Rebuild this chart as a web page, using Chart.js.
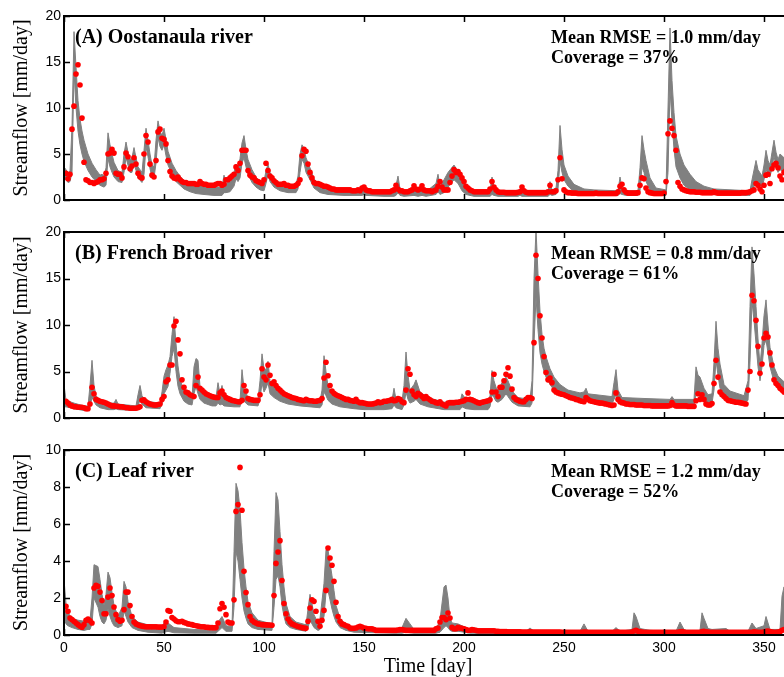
<!DOCTYPE html>
<html>
<head>
<meta charset="utf-8">
<script src="https://cdn.jsdelivr.net/npm/chart.js@4/dist/chart.umd.min.js"></script>
<style>
  html, body { margin: 0; padding: 0; background: #fff; overflow: hidden; width: 784px; height: 677px; }
  canvas { position: absolute; left: 0; }
</style>
</head>
<body>
<canvas id="panelA" width="800" height="216" style="top:0px;width:800px;height:216px"></canvas>
<canvas id="panelB" width="800" height="216" style="top:216px;width:800px;height:216px"></canvas>
<canvas id="panelC" width="800" height="245" style="top:432px;width:800px;height:245px"></canvas>
<script>
// ---- axis ticks ----
const dayTicks = [0, 50, 100, 150, 200, 250, 300, 350];
const flowTicksAB = [0, 5, 10, 15, 20];
const flowTicksC = [0, 2, 4, 6, 8, 10];

// ---- panel labels ----
const titles = ['(A) Oostanaula river', '(B) French Broad river', '(C) Leaf river'];
const rmseText = ['Mean RMSE = 1.0 mm/day', 'Mean RMSE = 0.8 mm/day', 'Mean RMSE = 1.2 mm/day'];
const coverageText = ['Coverage = 37%', 'Coverage = 61%', 'Coverage = 52%'];

// ---- observed daily streamflow (mm/day), days 1..365 ----
const obsA = [
  2.9, 2.3, 2.8, 7.7, 10.2, 13.7, 14.7, 12.5, 8.9, 4.1,
  2.2, 2.1, 1.9, 1.9, 1.8, 1.9, 2.0, 2.2, 2.2, 2.3,
  2.9, 5.0, 5.1, 5.5, 5.1, 2.9, 2.8, 2.8, 2.4, 3.6,
  5.1, 4.7, 3.4, 3.7, 4.6, 3.9, 2.9, 2.5, 2.4, 5.0,
  7.0, 6.3, 3.9, 2.7, 2.5, 4.3, 7.4, 7.7, 6.7, 6.6,
  6.1, 4.3, 3.1, 2.6, 2.4, 2.3, 2.5, 2.2, 2.0, 1.9,
  1.9, 1.8, 1.8, 1.8, 1.8, 1.7, 1.7, 2.0, 1.8, 1.7,
  1.7, 1.6, 1.6, 1.6, 1.6, 1.7, 1.8, 1.8, 1.6, 1.7,
  2.2, 2.2, 2.4, 2.6, 2.8, 3.6, 3.2, 4.0, 5.4, 5.4,
  5.4, 3.2, 2.7, 2.5, 2.4, 2.1, 2.0, 1.9, 1.8, 2.2,
  4.0, 3.2, 2.6, 2.4, 2.1, 1.9, 1.7, 1.7, 1.7, 1.8,
  1.6, 1.6, 1.5, 1.5, 1.5, 1.6, 1.8, 2.2, 4.8, 5.5,
  5.3, 3.9, 3.0, 2.4, 1.9, 1.8, 1.8, 1.7, 1.6, 1.5,
  1.5, 1.4, 1.3, 1.2, 1.2, 1.1, 1.1, 1.1, 1.1, 1.1,
  1.1, 1.1, 1.1, 1.0, 1.0, 1.0, 1.1, 1.0, 1.3, 1.4,
  1.1, 1.0, 1.0, 0.9, 0.9, 0.9, 0.9, 0.9, 0.9, 0.9,
  0.9, 0.9, 0.9, 1.0, 1.1, 1.6, 1.2, 1.0, 1.0, 0.9,
  0.9, 0.9, 1.0, 1.1, 1.55, 1.2, 1.1, 1.2, 1.55, 1.1,
  1.0, 1.0, 1.0, 0.9, 1.0, 1.1, 1.5, 2.0, 1.4, 1.1,
  1.1, 1.1, 1.9, 2.6, 3.3, 3.0, 3.1, 2.8, 2.4, 2.0,
  1.5, 1.3, 1.1, 1.0, 0.9, 0.9, 0.9, 0.9, 0.9, 0.9,
  0.9, 0.9, 1.2, 2.0, 1.4, 1.1, 0.9, 0.85, 0.85, 0.85,
  0.8, 0.8, 0.8, 0.8, 0.8, 0.8, 0.85, 0.9, 1.4, 1.0,
  0.85, 0.8, 0.8, 0.8, 0.8, 0.8, 0.8, 0.8, 0.8, 0.8,
  0.8, 0.9, 1.6, 0.9, 0.9, 1.0, 2.2, 4.6, 2.3, 1.1,
  0.9, 0.8, 0.8, 0.75, 0.75, 0.75, 0.7, 0.7, 0.7, 0.7,
  0.7, 0.7, 0.7, 0.7, 0.7, 0.75, 0.7, 0.7, 0.7, 0.7,
  0.7, 0.7, 0.7, 0.7, 0.7, 0.7, 0.9, 1.5, 1.7, 1.1,
  0.85, 0.75, 0.75, 0.75, 0.75, 0.75, 0.8, 1.6, 2.4, 2.3,
  1.3, 0.9, 0.8, 0.75, 0.7, 0.7, 0.7, 0.7, 0.7, 0.75,
  2.0, 7.2, 8.6, 7.8, 7.0, 5.4, 1.9, 1.5, 1.2, 1.1,
  1.0, 0.95, 0.9, 0.9, 0.9, 0.85, 0.85, 0.85, 0.8, 0.8,
  0.8, 0.8, 0.8, 0.8, 0.9, 0.8, 0.75, 0.75, 0.75, 0.75,
  0.75, 0.75, 0.75, 0.75, 0.75, 0.75, 0.75, 0.75, 0.8, 0.8,
  0.8, 0.85, 0.9, 1.0, 1.1, 1.8, 1.6, 1.2, 0.9, 1.6,
  2.7, 2.8, 1.8, 3.4, 3.8, 4.0, 3.5, 2.6, 2.2, 3.0,
  3.2, 3.4, 3.0, 2.8, 2.6
];
const obsB = [
  1.8, 1.6, 1.4, 1.3, 1.2, 1.2, 1.15, 1.15, 1.15, 1.1,
  1.0, 1.0, 1.5, 3.3, 2.6, 2.0, 1.9, 1.8, 1.75, 1.7,
  1.6, 1.5, 1.4, 1.3, 1.3, 1.25, 1.25, 1.2, 1.2, 1.15,
  1.1, 1.1, 1.05, 1.05, 1.05, 1.05, 1.1, 1.2, 1.9, 1.95,
  1.75, 1.6, 1.5, 1.45, 1.4, 1.4, 1.45, 1.5, 2.0, 2.3,
  3.9, 4.1, 5.7, 5.7, 9.9, 10.4, 8.4, 6.9, 4.1, 3.3,
  2.8, 2.7, 2.5, 2.4, 2.3, 3.5, 4.4, 3.2, 3.0, 2.8,
  2.6, 2.5, 2.4, 2.3, 2.25, 2.2, 2.2, 2.7, 2.9, 2.5,
  2.2, 2.1, 2.0, 1.9, 1.85, 1.8, 1.75, 1.75, 1.9, 3.5,
  2.9, 2.1, 2.0, 1.95, 1.9, 1.9, 1.9, 2.5, 5.3, 4.4,
  4.1, 5.7, 4.6, 3.7, 3.9, 3.5, 3.2, 3.0, 2.8, 2.6,
  2.5, 2.4, 2.3, 2.2, 2.15, 2.1, 2.0, 1.95, 1.9, 1.85,
  2.0, 1.9, 1.85, 1.85, 1.8, 1.8, 1.85, 1.9, 2.1, 4.3,
  6.0, 4.55, 3.5, 2.9, 2.65, 2.5, 2.4, 2.3, 2.2, 2.1,
  2.0, 2.0, 1.9, 1.85, 1.8, 2.0, 1.75, 1.65, 1.65, 1.6,
  1.55, 1.5, 1.5, 1.5, 1.55, 1.6, 1.75, 1.65, 1.7, 1.8,
  1.8, 1.85, 1.9, 2.0, 1.85, 1.9, 2.1, 2.0, 1.75, 1.65,
  3.0, 5.3, 4.7, 2.9, 2.5, 2.3, 2.65, 2.5, 2.3, 2.1,
  2.3, 2.1, 1.95, 1.8, 1.75, 1.65, 1.6, 1.75, 1.5, 1.4,
  1.3, 1.6, 1.65, 1.65, 1.65, 1.7, 1.7, 1.75, 1.8, 1.85,
  2.0, 2.7, 2.0, 1.95, 1.85, 1.75, 1.65, 1.6, 1.7, 1.75,
  1.8, 1.85, 1.95, 2.8, 4.7, 2.8, 2.3, 3.3, 3.3, 4.0,
  4.7, 5.4, 4.5, 3.1, 2.2, 2.0, 1.9, 1.8, 1.75, 1.75,
  2.0, 2.2, 2.2, 2.1, 8.1, 17.5, 15.0, 11.0, 8.6, 6.6,
  4.9, 4.1, 4.3, 3.8, 3.0, 2.8, 2.7, 2.6, 2.55, 2.5,
  2.4, 2.3, 2.2, 2.15, 2.1, 2.0, 1.95, 1.85, 1.8, 1.75,
  2.2, 2.0, 1.85, 1.8, 1.75, 1.7, 1.65, 1.6, 1.6, 1.55,
  1.5, 1.45, 1.4, 1.35, 1.4, 2.7, 2.0, 1.75, 1.65, 1.6,
  1.5, 1.5, 1.45, 1.45, 1.45, 1.4, 1.4, 1.4, 1.4, 1.35,
  1.35, 1.35, 1.35, 1.3, 1.3, 1.3, 1.3, 1.3, 1.3, 1.3,
  1.3, 1.3, 1.35, 1.65, 1.4, 1.3, 1.3, 1.3, 1.3, 1.3,
  1.3, 1.25, 1.25, 1.25, 1.25, 1.85, 2.6, 2.0, 2.5, 2.0,
  1.5, 1.4, 1.4, 1.55, 3.7, 6.2, 4.4, 2.8, 2.5, 2.3,
  2.1, 1.9, 1.85, 1.8, 1.75, 1.7, 1.7, 1.65, 1.6, 1.55,
  1.5, 3.0, 5.0, 13.2, 12.6, 10.5, 7.7, 4.8, 5.8, 8.6,
  9.1, 8.7, 7.0, 5.7, 4.1, 3.7, 3.5, 3.2, 3.0, 2.8,
  2.7, 2.6, 2.5, 2.4, 2.3
];
const obsC = [
  1.55, 1.28, 0.92, 0.83, 0.74, 0.65, 0.56, 0.47, 0.42, 0.56,
  0.8, 0.86, 0.77, 0.65, 2.54, 2.68, 2.63, 2.32, 1.86, 1.15,
  1.15, 2.05, 2.54, 2.13, 1.51, 1.1, 0.83, 0.74, 0.8, 1.37,
  2.32, 2.32, 1.59, 1.0, 0.7, 0.6, 0.55, 0.5, 0.48, 0.46,
  0.45, 0.45, 0.45, 0.44, 0.44, 0.44, 0.43, 0.43, 0.43, 0.45,
  0.7, 1.32, 1.28, 0.95, 0.86, 0.77, 0.72, 0.72, 0.74, 0.68,
  0.65, 0.6, 0.58, 0.56, 0.53, 0.5, 0.48, 0.46, 0.45, 0.44,
  0.42, 0.41, 0.4, 0.4, 0.39, 0.4, 0.65, 1.42, 1.7, 1.5,
  1.1, 0.7, 0.65, 0.65, 1.9, 6.68, 7.05, 9.06, 6.74, 3.44,
  2.3, 1.64, 1.0, 0.8, 0.7, 0.65, 0.6, 0.58, 0.56, 0.55,
  0.55, 0.54, 0.54, 0.53, 2.13, 3.87, 4.49, 5.1, 2.95, 1.7,
  1.15, 0.86, 0.7, 0.6, 0.55, 0.5, 0.46, 0.43, 0.4, 0.38,
  0.36, 0.74, 1.46, 1.9, 1.82, 1.28, 0.74, 0.47, 0.8, 1.33,
  2.41, 4.7, 4.16, 3.77, 2.9, 1.77, 1.0, 0.74, 0.6, 0.56,
  0.5, 0.47, 0.38, 0.36, 0.36, 0.38, 0.43, 0.47, 0.43, 0.38,
  0.36, 0.34, 0.34, 0.33, 0.3, 0.25, 0.25, 0.25, 0.25, 0.25,
  0.25, 0.25, 0.25, 0.25, 0.25, 0.25, 0.27, 0.29, 0.3, 0.27,
  0.25, 0.25, 0.25, 0.25, 0.25, 0.25, 0.25, 0.25, 0.25, 0.25,
  0.25, 0.25, 0.25, 0.25, 0.25, 0.34, 0.38, 0.7, 0.95, 0.95,
  0.83, 1.19, 0.92, 0.41, 0.34, 0.34, 0.41, 0.38, 0.36, 0.34,
  0.3, 0.25, 0.26, 0.29, 0.27, 0.25, 0.23, 0.23, 0.23, 0.23,
  0.23, 0.23, 0.23, 0.23, 0.23, 0.2, 0.2, 0.18, 0.18, 0.18,
  0.18, 0.17, 0.17, 0.17, 0.17, 0.17, 0.17, 0.17, 0.16, 0.16,
  0.16, 0.16, 0.17, 0.16, 0.16, 0.16, 0.16, 0.16, 0.16, 0.16,
  0.16, 0.16, 0.16, 0.16, 0.16, 0.16, 0.16, 0.16, 0.15, 0.15,
  0.15, 0.15, 0.15, 0.15, 0.15, 0.15, 0.15, 0.15, 0.15, 0.16,
  0.16, 0.15, 0.15, 0.15, 0.15, 0.15, 0.15, 0.15, 0.15, 0.15,
  0.15, 0.15, 0.15, 0.15, 0.15, 0.16, 0.16, 0.15, 0.15, 0.15,
  0.15, 0.15, 0.15, 0.16, 0.22, 0.25, 0.2, 0.17, 0.16, 0.15,
  0.15, 0.15, 0.15, 0.15, 0.15, 0.15, 0.15, 0.15, 0.15, 0.15,
  0.15, 0.15, 0.15, 0.15, 0.15, 0.15, 0.15, 0.17, 0.18, 0.16,
  0.15, 0.15, 0.15, 0.15, 0.15, 0.15, 0.15, 0.15, 0.18, 0.2,
  0.17, 0.16, 0.15, 0.15, 0.15, 0.15, 0.15, 0.15, 0.15, 0.15,
  0.15, 0.15, 0.15, 0.15, 0.15, 0.15, 0.15, 0.15, 0.15, 0.15,
  0.15, 0.15, 0.15, 0.15, 0.17, 0.16, 0.15, 0.15, 0.15, 0.16,
  0.2, 0.22, 0.18, 0.16, 0.15, 0.15, 0.16, 0.18, 0.25, 0.3,
  0.28, 0.25, 0.22, 0.2, 0.2
];

// ---- simulated uncertainty band: day, lower bound, upper bound ----
const bandDayA = [
  0, 1, 2, 3, 4, 5, 6, 7, 8, 9,
  10, 12, 14, 16, 18, 19, 20, 21, 22, 23,
  24, 25, 27, 29, 30, 31, 32, 33, 34, 35,
  36, 37, 39, 40, 41, 42, 43, 44, 45, 46,
  47, 48, 49, 50, 51, 52, 54, 56, 58, 60,
  63, 66, 70, 75, 79, 80, 81, 83, 85, 86,
  87, 88, 89, 90, 91, 92, 94, 96, 98, 100,
  101, 102, 103, 105, 108, 112, 116, 117, 118, 119,
  120, 121, 123, 125, 128, 132, 140, 149, 150, 151,
  160, 165, 166, 167, 168, 170, 175, 177, 179, 181,
  186, 187, 188, 190, 192, 195, 197, 199, 201, 205,
  213, 214, 215, 217, 227, 228, 229, 242, 243, 244,
  246, 247, 248, 249, 250, 252, 255, 260, 265, 277,
  278, 279, 281, 287, 288, 289, 290, 291, 293, 296,
  301, 302, 303, 304, 305, 306, 308, 310, 313, 316,
  320, 325, 343, 344, 346, 347, 349, 350, 351, 352,
  353, 354, 355, 356, 357, 358, 360, 362, 365
];
const bandLoA = [
  2.3, 2.2, 1.9, 2.0, 3.0, 14.0, 10.0, 7.5, 6.0, 5.0,
  4.2, 3.2, 2.5, 2.0, 1.6, 1.5, 1.4, 1.6, 4.5, 3.6,
  3.0, 2.5, 2.0, 1.9, 3.0, 4.6, 3.8, 3.0, 3.0, 4.0,
  3.2, 2.4, 1.9, 2.8, 5.8, 4.7, 3.4, 2.5, 2.4, 4.0,
  6.8, 5.8, 5.4, 6.0, 4.8, 3.8, 2.8, 2.0, 1.6, 1.2,
  0.9, 0.7, 0.6, 0.5, 0.5, 0.8, 0.8, 0.9, 1.5, 2.3,
  2.0, 2.4, 4.0, 4.6, 3.6, 2.8, 1.9, 1.4, 1.1, 1.0,
  1.8, 2.8, 2.0, 1.4, 1.0, 0.8, 0.8, 1.2, 3.0, 4.4,
  4.0, 3.0, 2.2, 1.3, 0.8, 0.6, 0.5, 0.5, 0.6, 0.5,
  0.4, 0.4, 0.5, 0.8, 0.5, 0.4, 0.5, 0.4, 0.5, 0.4,
  0.6, 0.9, 0.6, 0.8, 1.4, 2.2, 1.8, 1.0, 0.6, 0.4,
  0.4, 0.6, 0.5, 0.4, 0.4, 0.5, 0.4, 0.4, 0.6, 0.5,
  0.6, 1.2, 4.2, 3.0, 2.2, 1.5, 0.9, 0.6, 0.6, 0.5,
  0.7, 0.6, 0.5, 0.5, 1.0, 3.6, 3.0, 2.0, 1.1, 0.6,
  0.5, 3.0, 12.0, 8.5, 5.5, 3.6, 2.4, 1.6, 1.1, 0.8,
  0.7, 0.6, 0.5, 0.9, 2.0, 1.8, 1.4, 2.2, 3.4, 2.6,
  2.5, 3.5, 4.8, 3.6, 3.0, 3.3, 3.0, 2.6, 2.3
];
const bandHiA = [
  3.6, 3.3, 2.9, 3.2, 8.0, 18.3, 14.5, 10.8, 8.8, 7.5,
  6.5, 5.0, 4.0, 3.3, 2.7, 2.8, 2.6, 3.5, 7.3, 6.0,
  5.0, 4.1, 3.2, 3.0, 5.0, 6.3, 5.2, 4.4, 4.6, 5.7,
  4.6, 3.6, 3.0, 5.4, 7.8, 6.5, 5.0, 3.8, 3.6, 6.5,
  8.6, 7.5, 7.0, 7.8, 6.6, 5.3, 4.0, 3.2, 2.6, 2.1,
  1.8, 1.6, 1.5, 1.4, 1.4, 2.7, 1.8, 2.0, 3.0, 3.9,
  3.3, 4.5, 6.2, 7.0, 5.5, 4.4, 3.3, 2.5, 2.0, 2.0,
  3.2, 3.9, 3.0, 2.3, 1.8, 1.6, 1.7, 2.6, 5.0, 6.0,
  5.6, 4.6, 3.5, 2.3, 1.6, 1.2, 1.0, 1.0, 1.4, 1.0,
  0.9, 0.9, 1.6, 2.6, 1.2, 0.9, 1.2, 0.9, 1.2, 0.9,
  1.8, 2.8, 1.5, 2.2, 3.0, 3.8, 3.1, 2.0, 1.2, 0.9,
  1.0, 2.5, 1.4, 0.9, 0.8, 1.2, 0.9, 0.9, 2.0, 1.1,
  1.3, 3.2, 8.1, 5.5, 3.8, 2.6, 1.7, 1.2, 1.1, 1.0,
  2.5, 1.3, 1.0, 1.0, 3.5, 7.0, 5.5, 4.3, 2.4, 1.3,
  1.1, 10.0, 18.7, 13.0, 9.5, 7.0, 5.0, 3.8, 2.8, 2.0,
  1.5, 1.2, 1.0, 2.2, 4.3, 3.3, 2.6, 3.8, 5.4, 4.3,
  3.8, 5.2, 6.5, 5.2, 4.4, 5.0, 4.6, 4.0, 3.5
];

const bandDayB = [
  0, 1, 5, 10, 12, 13, 14, 15, 16, 18,
  22, 25, 26, 27, 36, 37, 38, 39, 41, 48,
  49, 50, 51, 52, 53, 54, 55, 56, 57, 58,
  60, 62, 64, 65, 66, 67, 68, 70, 74, 76,
  77, 78, 79, 80, 85, 88, 89, 90, 92, 97,
  98, 99, 100, 101, 102, 103, 105, 108, 112, 118,
  128, 129, 130, 131, 132, 134, 138, 145, 150, 160,
  164, 165, 166, 169, 170, 171, 172, 173, 175, 176,
  178, 182, 190, 198, 199, 201, 205, 212, 213, 214,
  215, 216, 217, 219, 221, 222, 224, 227, 233, 234,
  235, 236, 237, 238, 239, 240, 241, 243, 245, 248,
  252, 258, 260, 261, 262, 270, 274, 275, 276, 277,
  279, 290, 303, 304, 305, 315, 316, 317, 318, 320,
  322, 324, 325, 326, 327, 328, 330, 333, 340, 342,
  343, 344, 345, 346, 347, 348, 349, 350, 351, 352,
  353, 355, 357, 360, 362, 365
];
const bandLoB = [
  1.2, 1.2, 1.0, 0.8, 0.8, 1.2, 2.2, 1.8, 1.4, 1.1,
  0.9, 0.9, 1.0, 0.9, 0.8, 1.2, 2.0, 1.5, 1.1, 1.0,
  1.5, 2.6, 3.0, 3.4, 4.8, 6.6, 7.5, 5.0, 3.4, 2.6,
  1.8, 1.5, 1.4, 2.6, 3.4, 2.6, 2.0, 1.6, 1.3, 1.3,
  1.6, 1.4, 1.5, 1.3, 1.2, 1.2, 2.2, 1.8, 1.4, 1.3,
  2.0, 3.8, 2.8, 3.2, 3.8, 2.6, 2.2, 1.8, 1.5, 1.3,
  1.1, 1.4, 2.8, 2.4, 1.9, 1.5, 1.2, 1.0, 0.9, 0.9,
  1.0, 1.4, 1.1, 0.9, 1.4, 2.8, 2.0, 1.6, 1.8, 2.0,
  1.5, 1.2, 0.9, 0.9, 1.2, 1.0, 0.9, 0.9, 1.2, 2.5,
  2.2, 1.8, 1.7, 2.0, 2.6, 2.3, 1.7, 1.3, 1.2, 1.6,
  8.0, 13.0, 9.5, 7.0, 5.8, 5.0, 4.4, 3.6, 3.0, 2.5,
  2.1, 1.9, 1.9, 2.0, 1.8, 1.6, 1.5, 2.0, 2.5, 1.9,
  1.5, 1.4, 1.3, 1.4, 1.3, 1.3, 2.6, 2.5, 2.2, 1.8,
  1.6, 1.6, 3.0, 6.2, 4.6, 3.2, 2.3, 1.9, 1.6, 1.9,
  6.0, 12.5, 10.5, 8.0, 5.5, 4.0, 5.5, 7.8, 8.4, 7.0,
  5.5, 3.9, 3.3, 2.8, 2.6, 2.4
];
const bandHiB = [
  3.6, 1.9, 1.6, 1.3, 1.3, 3.5, 6.2, 3.5, 2.4, 1.9,
  1.6, 1.6, 2.0, 1.5, 1.3, 2.5, 3.5, 2.4, 1.8, 1.6,
  2.8, 4.5, 5.2, 5.7, 6.6, 9.0, 10.9, 8.0, 5.6, 4.1,
  3.0, 2.4, 2.2, 5.5, 6.4, 6.2, 3.4, 2.6, 2.1, 2.2,
  3.8, 2.6, 3.5, 2.3, 1.8, 1.8, 5.2, 3.2, 2.2, 2.0,
  4.0, 6.9, 5.3, 5.2, 6.1, 4.0, 3.4, 2.8, 2.4, 2.0,
  1.8, 3.0, 6.7, 5.0, 3.4, 2.6, 2.0, 1.8, 1.6, 1.6,
  1.9, 3.2, 2.0, 1.8, 3.5, 7.1, 4.6, 3.0, 3.6, 4.1,
  2.8, 2.2, 1.7, 1.7, 2.6, 2.0, 1.7, 1.7, 2.4, 5.1,
  4.0, 3.3, 3.0, 3.8, 4.4, 4.0, 2.9, 2.2, 2.0, 4.0,
  15.0, 20.3, 15.5, 11.5, 9.0, 7.5, 6.6, 5.3, 4.4, 3.6,
  3.0, 2.7, 2.8, 3.2, 2.6, 2.4, 2.3, 3.8, 5.2, 3.0,
  2.2, 2.1, 2.0, 2.3, 2.0, 2.0, 5.5, 4.6, 4.4, 3.2,
  2.5, 2.6, 6.0, 10.4, 7.5, 5.8, 3.6, 2.9, 2.4, 4.0,
  12.0, 18.4, 15.5, 12.0, 8.5, 5.6, 8.0, 11.0, 12.7, 10.0,
  7.6, 5.5, 4.5, 3.9, 3.6, 3.3
];

const bandDayC = [
  0, 1, 2, 4, 7, 10, 12, 13, 14, 15,
  17, 18, 19, 20, 21, 22, 23, 24, 25, 27,
  29, 30, 31, 32, 34, 37, 42, 49, 50, 52,
  55, 65, 76, 77, 79, 81, 84, 85, 86, 87,
  88, 89, 90, 91, 92, 94, 97, 104, 105, 106,
  107, 108, 109, 110, 111, 113, 116, 121, 122, 123,
  124, 125, 127, 128, 130, 131, 132, 133, 134, 135,
  136, 138, 141, 145, 165, 169, 171, 173, 175, 186,
  188, 190, 191, 192, 193, 194, 197, 200, 203, 205,
  207, 216, 231, 233, 235, 258, 260, 262, 274, 276,
  278, 284, 285, 286, 288, 293, 306, 308, 310, 312,
  318, 319, 320, 322, 324, 331, 333, 342, 344, 346,
  350, 351, 353, 358, 359, 360, 362, 365
];
const bandLoC = [
  0.9, 0.6, 0.5, 0.4, 0.3, 0.25, 0.3, 0.3, 0.6, 2.0,
  1.5, 1.0, 0.7, 0.6, 0.8, 1.4, 1.0, 0.7, 0.5, 0.4,
  0.5, 1.3, 1.0, 0.7, 0.4, 0.25, 0.15, 0.1, 0.15, 0.2,
  0.12, 0.1, 0.1, 0.2, 0.4, 0.2, 0.2, 1.5, 4.5, 4.0,
  3.0, 2.0, 1.3, 0.9, 0.6, 0.4, 0.3, 0.25, 1.5, 3.0,
  3.2, 2.6, 1.6, 1.0, 0.6, 0.4, 0.3, 0.2, 0.4, 0.8,
  0.6, 0.4, 0.25, 0.3, 1.0, 2.3, 2.4, 1.9, 1.4, 1.0,
  0.7, 0.4, 0.25, 0.15, 0.1, 0.1, 0.15, 0.12, 0.1, 0.1,
  0.15, 0.4, 0.5, 0.4, 0.25, 0.2, 0.2, 0.15, 0.1, 0.1,
  0.08, 0.06, 0.06, 0.07, 0.06, 0.05, 0.06, 0.05, 0.05, 0.06,
  0.05, 0.05, 0.08, 0.07, 0.05, 0.05, 0.05, 0.06, 0.05, 0.05,
  0.05, 0.08, 0.07, 0.05, 0.05, 0.05, 0.05, 0.05, 0.06, 0.05,
  0.06, 0.08, 0.05, 0.05, 0.1, 0.3, 0.2, 0.15
];
const bandHiC = [
  3.0, 1.7, 1.2, 0.9, 0.8, 0.75, 0.95, 0.8, 2.0, 3.8,
  3.7, 3.0, 2.2, 1.6, 2.2, 3.4, 3.1, 2.3, 1.6, 1.0,
  1.5, 2.9, 2.6, 1.8, 1.0, 0.7, 0.55, 0.45, 0.65, 0.65,
  0.4, 0.3, 0.25, 0.7, 1.0, 0.5, 0.45, 4.5, 8.2, 7.8,
  6.8, 5.0, 3.6, 2.6, 1.8, 1.2, 0.8, 0.6, 4.5, 7.7,
  7.3, 5.6, 3.8, 2.6, 1.7, 1.0, 0.7, 0.55, 1.4, 2.2,
  1.7, 1.1, 0.65, 0.9, 2.8, 4.6, 4.6, 3.9, 3.2, 2.4,
  1.6, 0.9, 0.55, 0.4, 0.3, 0.4, 0.9, 0.6, 0.3, 0.3,
  0.8, 2.6, 2.7, 2.0, 0.9, 0.65, 0.6, 0.45, 0.3, 0.4,
  0.25, 0.2, 0.2, 0.38, 0.2, 0.2, 0.6, 0.2, 0.2, 0.4,
  0.2, 0.3, 1.2, 1.0, 0.35, 0.25, 0.2, 0.7, 0.3, 0.2,
  0.25, 1.2, 0.9, 0.35, 0.3, 0.35, 0.2, 0.2, 0.65, 0.35,
  0.5, 1.0, 0.3, 0.3, 2.1, 2.6, 1.5, 1.0
];

// ---- drawing ----
const DAY_MAX = 364;
const BAND_GREY = '#808080';
const DOT_RED = '#ff0000';
const TICK_LEN = 6;
const SERIF = '"Liberation Serif", "Times New Roman", serif';
const SANS = '"Liberation Sans", Arial, Helvetica, sans-serif';

// frame, inward ticks and panel annotations
const panelFrame = {
  id: 'panelFrame',
  afterDraw(chart, args, opts) {
    const { ctx, chartArea: a, scales: { x, y } } = chart;
    ctx.save();
    ctx.strokeStyle = '#000';
    ctx.lineWidth = 1.5;
    ctx.beginPath();
    x.ticks.forEach(t => {
      const px = Math.round(x.getPixelForValue(t.value)) + 0.5;
      ctx.moveTo(px, a.bottom); ctx.lineTo(px, a.bottom - TICK_LEN);
      ctx.moveTo(px, a.top); ctx.lineTo(px, a.top + TICK_LEN);
    });
    y.ticks.forEach(t => {
      const py = Math.round(y.getPixelForValue(t.value)) + 0.5;
      ctx.moveTo(a.left, py); ctx.lineTo(a.left + TICK_LEN, py);
      ctx.moveTo(a.right, py); ctx.lineTo(a.right - TICK_LEN, py);
    });
    ctx.stroke();
    ctx.lineWidth = 2;
    ctx.strokeRect(a.left, a.top, a.right - a.left, a.bottom - a.top);

    ctx.fillStyle = '#000';
    ctx.textAlign = 'left';
    ctx.textBaseline = 'middle';
    ctx.font = 'bold 20px ' + SERIF;
    ctx.fillText(opts.title, a.left + 11, a.top + 22);
    ctx.font = 'bold 18px ' + SERIF;
    ctx.fillText(opts.rmse, a.left + 487, a.top + 22);
    ctx.fillText(opts.coverage, a.left + 487, a.top + 42);
    ctx.restore();
  }
};

function drawPanel(canvasId, idx, obs, bandDay, bandLo, bandHi, yMax, yTicks, padding, showX) {
  const obsPoints = obs.map((v, i) => ({ x: i + 1, y: v }));
  const loPoints = bandDay.map((d, i) => ({ x: d, y: bandLo[i] }));
  const hiPoints = bandDay.map((d, i) => ({ x: d, y: bandHi[i] }));
  const tickFont = { family: SANS, size: 14 };
  return new Chart(document.getElementById(canvasId), {
    type: 'line',
    data: {
      datasets: [
        { type: 'scatter', data: obsPoints, showLine: false, pointRadius: 2.8,
          pointBackgroundColor: DOT_RED, pointBorderWidth: 0, order: 0 },
        { data: loPoints, borderColor: BAND_GREY, borderWidth: 1, pointRadius: 0,
          tension: 0, fill: false, order: 1 },
        { data: hiPoints, borderColor: BAND_GREY, borderWidth: 1, pointRadius: 0,
          tension: 0, fill: '-1', backgroundColor: BAND_GREY, order: 1 }
      ]
    },
    options: {
      responsive: false,
      animation: false,
      devicePixelRatio: 1,
      layout: { padding: padding },
      plugins: {
        legend: { display: false },
        tooltip: { enabled: false },
        panelFrame: { title: titles[idx], rmse: rmseText[idx], coverage: coverageText[idx] }
      },
      scales: {
        x: {
          type: 'linear', min: 0, max: DAY_MAX,
          grid: { display: false, drawTicks: false }, border: { display: false },
          afterBuildTicks: s => { s.ticks = dayTicks.map(v => ({ value: v })); },
          afterFit: s => { s.height = showX ? 42 : 0; },
          ticks: { display: showX, font: tickFont, color: '#000', padding: 5,
                   maxRotation: 0, autoSkip: false },
          title: { display: showX, text: 'Time [day]', color: '#000',
                   font: { family: SERIF, size: 20, lineHeight: 1 }, padding: 0 }
        },
        y: {
          type: 'linear', min: 0, max: yMax,
          grid: { display: false, drawTicks: false }, border: { display: false },
          afterBuildTicks: s => { s.ticks = yTicks.map(v => ({ value: v })); },
          afterFit: s => { s.width = 64; },
          ticks: { font: tickFont, color: '#000', padding: 3, autoSkip: false },
          title: { display: true, text: 'Streamflow [mm/day]', color: '#000',
                   font: { family: SERIF, size: 20, lineHeight: 1 }, padding: { top: 12, bottom: 0 } }
        }
      }
    },
    plugins: [panelFrame]
  });
}

drawPanel('panelA', 0, obsA, bandDayA, bandLoA, bandHiA, 20, flowTicksAB,
          { top: 16, right: 8, bottom: 16, left: 0 }, false);
drawPanel('panelB', 1, obsB, bandDayB, bandLoB, bandHiB, 20, flowTicksAB,
          { top: 16, right: 8, bottom: 14, left: 0 }, false);
drawPanel('panelC', 2, obsC, bandDayC, bandLoC, bandHiC, 10, flowTicksC,
          { top: 18, right: 8, bottom: 0, left: 0 }, true);
</script>
</body>
</html>
